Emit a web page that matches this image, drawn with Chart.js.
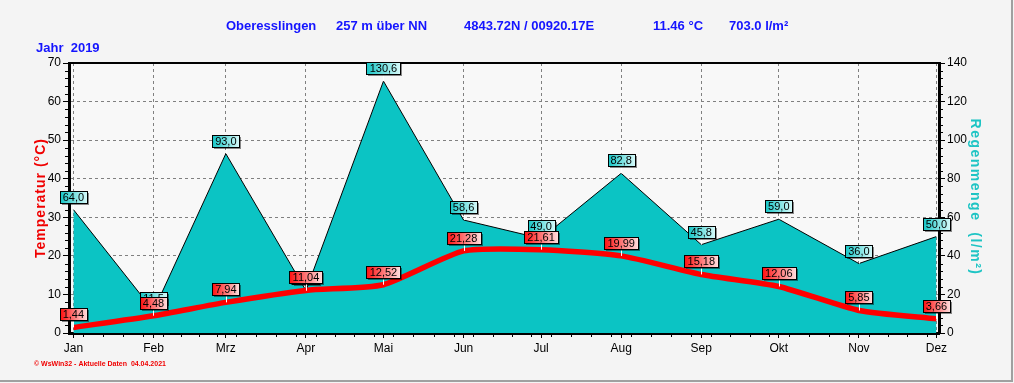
<!DOCTYPE html>
<html>
<head>
<meta charset="utf-8">
<script src="https://cdn.jsdelivr.net/npm/chart.js@4/dist/chart.umd.min.js"></script>
<style>
  html, body { margin: 0; padding: 0; background: #f4f4f4; }
  canvas { display: block; }
</style>
</head>
<body>
<canvas id="klima" width="1014" height="383"></canvas>
<script>
// Daten 2019
const monate = ['Jan', 'Feb', 'Mrz', 'Apr', 'Mai', 'Jun', 'Jul', 'Aug', 'Sep', 'Okt', 'Nov', 'Dez'];
const monatsTag = [0, 31, 59, 90, 120, 151, 181, 212, 243, 273, 304, 334]; // Tag im Jahr (Monatsanfang)
const temperatur = [1.44, 4.48, 7.94, 11.04, 12.52, 21.28, 21.61, 19.99, 15.18, 12.06, 5.85, 3.66];
const regen = [64.0, 11.5, 93.0, 22.0, 130.6, 58.6, 49.0, 82.8, 45.8, 59.0, 36.0, 50.0];
const tempTicks = [0, 10, 20, 30, 40, 50, 60, 70];
const regenTicks = [0, 20, 40, 60, 80, 100, 120, 140];

const FONT = '"Liberation Sans", Arial, sans-serif';

// Hintergrund + Rahmen
const hintergrund = {
    id: 'hintergrund',
    beforeDraw(chart) {
        const { ctx, chartArea: a, width, height } = chart;
        ctx.save();
        ctx.fillStyle = '#f4f4f4';
        ctx.fillRect(0, 0, width, height);
        ctx.fillStyle = '#f8f8f8';
        ctx.fillRect(a.left, a.top, a.right - a.left, a.bottom - a.top);
        ctx.restore();
    },
    afterDraw(chart) {
        const { ctx, chartArea: a, width, height } = chart;
        ctx.save();
        // obere Linie des Diagramms
        ctx.strokeStyle = '#000';
        ctx.lineWidth = 2;
        ctx.beginPath();
        ctx.moveTo(a.left, a.top);
        ctx.lineTo(a.right, a.top);
        ctx.stroke();
        // Fensterrand
        ctx.strokeStyle = '#a0a0a0';
        ctx.lineWidth = 2;
        ctx.beginPath();
        ctx.moveTo(width - 2, 0);
        ctx.lineTo(width - 2, height - 2);
        ctx.lineTo(0, height - 2);
        ctx.stroke();
        ctx.restore();
    }
};

// kleine Zwischenstriche an den Achsen
const nebenStriche = {
    id: 'nebenStriche',
    afterDraw(chart) {
        const { ctx, chartArea: a, scales } = chart;
        ctx.save();
        ctx.strokeStyle = '#000';
        ctx.lineWidth = 1;
        ctx.beginPath();
        for (let v = 0; v <= 70; v += 2) {
            if (v % 10 === 0) continue;
            const y = Math.round(scales.yTemp.getPixelForValue(v)) + 0.5;
            ctx.moveTo(a.left - 4, y); ctx.lineTo(a.left, y);
        }
        for (let v = 0; v <= 140; v += 4) {
            if (v % 20 === 0) continue;
            const y = Math.round(scales.yRegen.getPixelForValue(v)) + 0.5;
            ctx.moveTo(a.right, y); ctx.lineTo(a.right + 4, y);
        }
        for (let i = 0; i < monatsTag.length - 1; i++) {
            const len = monatsTag[i + 1] - monatsTag[i];
            for (let k = 0; k < 4; k++) {
                const x = Math.round(scales.x.getPixelForValue(monatsTag[i] + (k + 0.5) * len / 4)) + 0.5;
                ctx.moveTo(x, a.bottom); ctx.lineTo(x, a.bottom + 4);
            }
        }
        ctx.stroke();
        ctx.restore();
    }
};

// Texte: Kopfzeile, Achsentitel, Fußzeile
const texte = {
    id: 'texte',
    afterDraw(chart) {
        const { ctx } = chart;
        ctx.save();
        ctx.fillStyle = '#1414ff';
        ctx.font = 'bold 13px ' + FONT;
        ctx.textBaseline = 'alphabetic';
        ctx.textAlign = 'left';
        ctx.fillText('Oberesslingen', 226, 30);
        ctx.fillText('257 m über NN', 336, 30);
        ctx.fillText('4843.72N / 00920.17E', 464, 30);
        ctx.fillText('11.46 °C', 653, 30);
        ctx.fillText('703.0 l/m²', 729, 30);
        ctx.fillText('Jahr  2019', 36, 52);

        ctx.letterSpacing = '1px';
        ctx.font = 'bold 14px ' + FONT;
        ctx.textAlign = 'center';
        ctx.textBaseline = 'middle';
        ctx.fillStyle = '#f00000';
        ctx.save();
        ctx.translate(41, 198);
        ctx.rotate(-Math.PI / 2);
        ctx.fillText('Temperatur (°C)', 0, 0);
        ctx.restore();

        ctx.letterSpacing = '1.5px';
        ctx.fillStyle = '#1ec4c4';
        ctx.save();
        ctx.translate(975, 197);
        ctx.rotate(Math.PI / 2);
        ctx.fillText('Regenmenge  (l/m²)', 0, 0);
        ctx.restore();

        ctx.letterSpacing = '0px';
        ctx.fillStyle = '#f00000';
        ctx.font = 'bold 7px ' + FONT;
        ctx.textAlign = 'left';
        ctx.textBaseline = 'alphabetic';
        ctx.fillText('© WsWin32 - Aktuelle Daten  04.04.2021', 34, 366);
        ctx.restore();
    }
};

// Wertefähnchen über den Punkten
function fahne(ctx, text, cx, py, farbeL, farbeR) {
    ctx.font = '11px ' + FONT;
    const w = Math.round(ctx.measureText(text).width) + 6;
    const h = 12;
    const x = Math.round(cx - w / 2) + 0.5;
    const y = Math.round(py - 7 - h) + 0.5;
    ctx.strokeStyle = '#ffffff';
    ctx.lineWidth = 1;
    ctx.beginPath();
    ctx.moveTo(Math.round(cx) + 0.5, y + h);
    ctx.lineTo(Math.round(cx) + 0.5, py);
    ctx.stroke();
    ctx.fillStyle = 'rgba(0,0,0,0.45)';
    ctx.fillRect(x + 1.5, y + 1.5, w, h);
    const g = ctx.createLinearGradient(x, 0, x + w, 0);
    g.addColorStop(0, farbeL);
    g.addColorStop(1, farbeR);
    ctx.fillStyle = g;
    ctx.fillRect(x, y, w, h);
    ctx.strokeStyle = '#000';
    ctx.strokeRect(x, y, w, h);
    ctx.fillStyle = '#000';
    ctx.textAlign = 'center';
    ctx.textBaseline = 'middle';
    ctx.fillText(text, cx, y + h / 2 + 0.5);
}

const fahnen = {
    id: 'fahnen',
    afterDraw(chart) {
        const { ctx } = chart;
        ctx.save();
        const regenMeta = chart.getDatasetMeta(1);
        regenMeta.data.forEach((p, i) => {
            fahne(ctx, regen[i].toFixed(1).replace('.', ','), p.x, p.y, '#16c6c6', '#d8fafa');
        });
        const tempMeta = chart.getDatasetMeta(0);
        tempMeta.data.forEach((p, i) => {
            fahne(ctx, temperatur[i].toFixed(2).replace('.', ','), p.x, p.y, '#ff1010', '#ffe0e0');
        });
        ctx.restore();
    }
};

new Chart(document.getElementById('klima'), {
    type: 'line',
    data: {
        datasets: [
            {
                label: 'Temperatur',
                data: monate.map((m, i) => ({ x: monatsTag[i], y: temperatur[i] })),
                yAxisID: 'yTemp',
                borderColor: '#ff0000',
                borderWidth: 5.5,
                tension: 0.2,
                pointRadius: 0,
                fill: false,
                order: 0
            },
            {
                label: 'Regenmenge',
                data: monate.map((m, i) => ({ x: monatsTag[i], y: regen[i] })),
                yAxisID: 'yRegen',
                borderColor: '#000000',
                borderWidth: 1,
                backgroundColor: '#0bc4c4',
                tension: 0,
                pointRadius: 0,
                fill: 'origin',
                order: 1
            }
        ]
    },
    options: {
        responsive: false,
        animation: false,
        devicePixelRatio: 1,
        layout: { padding: { top: 63, left: 0, right: 0, bottom: 0 } },
        plugins: { legend: { display: false }, tooltip: { enabled: false } },
        scales: {
            x: {
                type: 'linear',
                min: -1.7,
                max: 335.0,
                afterFit: s => { s.height = 50; },
                afterBuildTicks: s => { s.ticks = monatsTag.map(v => ({ value: v })); },
                ticks: {
                    autoSkip: false,
                    maxRotation: 0,
                    padding: 3,
                    color: '#000',
                    font: { family: FONT, size: 12 },
                    callback: v => monate[monatsTag.indexOf(v)]
                },
                grid: { color: '#808080', tickColor: '#000', tickLength: 5, lineWidth: 1 },
                border: { color: '#000', width: 3, dash: [3, 3] }
            },
            yTemp: {
                position: 'left',
                min: 0,
                max: 70,
                afterFit: s => { s.width = 69; },
                afterBuildTicks: s => { s.ticks = tempTicks.map(v => ({ value: v })); },
                ticks: { padding: 2, color: '#000', font: { family: FONT, size: 12 } },
                grid: { color: '#808080', tickColor: '#000', tickLength: 6, lineWidth: 1 },
                border: { color: '#000', width: 3, dash: [3, 3] }
            },
            yRegen: {
                position: 'right',
                min: 0,
                max: 140,
                afterFit: s => { s.width = 75; },
                afterBuildTicks: s => { s.ticks = regenTicks.map(v => ({ value: v })); },
                ticks: { padding: 2, color: '#000', font: { family: FONT, size: 12 } },
                grid: { drawOnChartArea: false, tickColor: '#000', tickLength: 6 },
                border: { color: '#000', width: 3 }
            }
        }
    },
    plugins: [hintergrund, nebenStriche, texte, fahnen]
});
</script>
</body>
</html>
